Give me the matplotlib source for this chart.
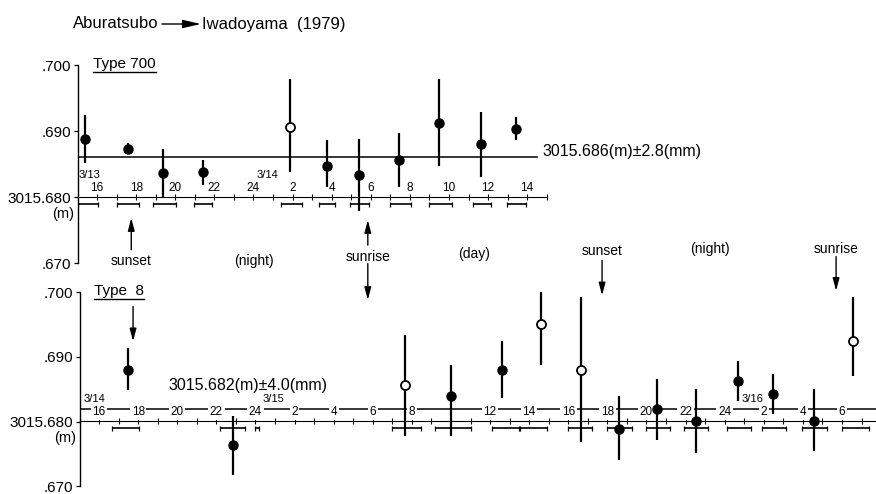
import matplotlib
matplotlib.use('Agg')
import matplotlib.pyplot as plt
import numpy as np
from matplotlib.ticker import FixedLocator, FixedFormatter
from matplotlib.lines import Line2D

plt.rcParams['font.family'] = ['Liberation Sans', 'DejaVu Sans']

# ---------------- data -----------------
# Type 700 (upper panel): time in hours from 3/13 0h, values in mm above 3015.680 m
t700_time = [15.38, 17.58, 19.37, 21.42, 25.87, 27.76, 29.40, 31.45, 33.50, 35.64, 37.43]
t700_val  = [8.8, 7.3, 3.6, 3.8, 10.6, 4.7, 3.3, 5.6, 11.2, 8.0, 10.3]
t700_hi   = [12.4, 8.2, 7.3, 5.6, 17.9, 8.6, 8.8, 9.7, 17.9, 12.9, 12.1]
t700_lo   = [5.2, 6.7, 0.0, 1.8, 3.8, 1.5, -2.1, 1.5, 4.7, 3.0, 8.6]
t700_open = [False, False, False, False, True, False, False, False, False, False, False]
t700_start = [15.0, 17.02, 18.86, 20.96, 25.40, 27.35, 28.94, 30.98, 32.98, 35.23, 36.97]
t700_end   = [16.05, 18.15, 20.04, 21.88, 26.48, 28.17, 29.92, 32.05, 34.16, 36.15, 37.95]
t700_mean = 6.0          # 3015.686 m
t700_mean_end = 38.5

# Type 8 (lower panel): time in hours from 3/14 0h
t8_time = [17.48, 22.85, 31.65, 34.00, 36.61, 38.61, 40.65, 42.60, 44.54, 46.54, 48.69, 50.47, 52.57, 54.56]
t8_val  = [8.0, -3.7, 5.7, 3.9, 7.9, 15.0, 8.0, -1.1, 2.0, 0.15, 6.2, 4.2, 0.15, 12.5]
t8_hi   = [11.4, 0.8, 13.4, 8.8, 12.5, 21.6, 19.3, 3.9, 6.6, 5.1, 9.4, 7.3, 5.1, 19.2]
t8_lo   = [4.8, -8.3, -2.2, -2.3, 3.6, 8.7, -3.1, -5.9, -2.9, -4.9, 3.2, 1.2, -4.5, 7.0]
t8_open = [False, False, True, False, False, True, True, False, False, False, False, False, False, True]
t8_start = [16.66, 22.19, 23.98, 30.98, 33.20, 36.10, 37.53, 39.99, 41.97, 44.00, 45.90, 48.12, 49.91, 51.96, 54.00]
t8_end   = [18.04, 23.49, 24.18, 32.46, 35.04, 37.48, 38.91, 41.21, 43.24, 45.20, 47.13, 49.35, 51.14, 53.24, 55.38]
t8_mean = 2.0            # 3015.682 m

top_hour_ticks = [16, 18, 20, 22, 24, 26, 28, 30, 32, 34, 36, 38]
top_hour_labels = ['16', '18', '20', '22', '24', '2', '4', '6', '8', '10', '12', '14']
bot_hour_ticks = [16, 18, 20, 22, 24, 26, 28, 30, 32, 34, 36, 38, 40, 42, 44, 46, 48, 50, 52, 54]
bot_hour_labels = ['16', '18', '20', '22', '24', '2', '4', '6', '8', '', '12', '14', '16', '18',
                   '20', '22', '24', '2', '4', '6']
ytick_vals = [-10, 0, 10, 20]
ytick_labels = ['.670', '3015.680', '.690', '.700']

top_dates = [(15.6, '3/13'), (24.7, '3/14')]
bot_dates = [(15.75, '3/14'), (24.9, '3/15'), (49.4, '3/16')]

# ---------------- figure -----------------
W, H = 876, 494
fig = plt.figure(figsize=(W / 100, H / 100), dpi=100)
pxh = 19.55  # pixels per hour

def fx(px):
    return px / W

def fy(px):
    return 1 - px / H

ax1 = fig.add_axes([fx(77.5), fy(263), 1 - fx(77.5), 198 / H])
ax1.set_xlim(15, 15 + (W - 77.5) / pxh)
ax1.set_ylim(-10, 20)
ax2 = fig.add_axes([fx(79.5), fy(486.2), 1 - fx(79.5), 194.1 / H])
ax2.set_xlim(15, 15 + (W - 79.5) / pxh)
ax2.set_ylim(-10, 20)


def setup(ax, xend, ticks, labels, boxed):
    ax.patch.set_visible(False)
    ax.spines['right'].set_visible(False)
    ax.spines['bottom'].set_visible(False)
    ax.spines['top'].set_position(('data', 0))
    ax.spines['top'].set_bounds(15, xend)
    ax.spines['top'].set_linewidth(0.8)
    ax.spines['left'].set_bounds(-10, 20)
    ax.spines['left'].set_linewidth(1.0)
    ax.xaxis.set_ticks_position('top')
    ax.xaxis.set_major_locator(FixedLocator(ticks))
    ax.xaxis.set_major_formatter(FixedFormatter(labels))
    ax.xaxis.set_minor_locator(FixedLocator(np.arange(15, xend + 0.01, 1)))
    ax.tick_params(axis='x', which='both', direction='inout', length=4, width=0.8,
                   pad=0.3, labelsize=8.5)
    ax.set_yticks(ytick_vals)
    ax.set_yticklabels(ytick_labels)
    ax.tick_params(axis='y', direction='out', length=3, width=0.9, pad=1.5, labelsize=11)
    ax.text(-0.004, -2.5, '(m)', transform=ax.get_yaxis_transform(), ha='right',
            va='center', fontsize=10.5)
    if boxed:
        for lbl in ax.xaxis.get_majorticklabels():
            lbl.set_bbox(dict(facecolor='white', edgecolor='none', pad=1.2))


def draw_points(ax, t, v, hi, lo, op, st, en):
    t = np.asarray(t); v = np.asarray(v)
    hi = np.asarray(hi); lo = np.asarray(lo); op = np.asarray(op)
    ax.errorbar(t, v, yerr=[v - lo, hi - v], fmt='none', ecolor='black',
                elinewidth=1.6, capsize=0, zorder=3)
    ax.plot(t[~op], v[~op], 'o', color='black', ms=6.5, zorder=4)
    ax.plot(t[op], v[op], 'o', mfc='white', mec='black', mew=1.3, ms=6.5, zorder=4)
    st = np.asarray(st); en = np.asarray(en)
    ax.errorbar((st + en) / 2, np.full(len(st), -1.0), xerr=(en - st) / 2, fmt='none',
                ecolor='black', elinewidth=1.2, capsize=1.8, capthick=0.9, zorder=3)


setup(ax1, 39, top_hour_ticks, top_hour_labels, False)
setup(ax2, ax2.get_xlim()[1], bot_hour_ticks, bot_hour_labels, True)

draw_points(ax1, t700_time, t700_val, t700_hi, t700_lo, t700_open, t700_start, t700_end)
draw_points(ax2, t8_time, t8_val, t8_hi, t8_lo, t8_open, t8_start, t8_end)

ax1.plot([15, t700_mean_end], [t700_mean, t700_mean], color='black', lw=1.1, zorder=2)
ax2.axhline(t8_mean, color='black', lw=1.1, zorder=1)

ax1.text(38.76, 6.9, '3015.686(m)\u00b12.8(mm)', ha='left', va='center', fontsize=11.5)
ax2.text(19.53, 5.6, '3015.682(m)\u00b14.0(mm)', ha='left', va='center', fontsize=11.5)

type1 = ax1.text(15.8, 20.2, 'Type 700', ha='left', va='center', fontsize=11)
type2 = ax2.text(15.75, 20.2, 'Type  8', ha='left', va='center', fontsize=11)

for x, s in top_dates:
    ax1.text(x, 3.3, s, ha='center', va='center', fontsize=8)
for x, s in bot_dates:
    ax2.text(x, 3.5, s, ha='center', va='center', fontsize=8,
             bbox=dict(facecolor='white', edgecolor='none', pad=0.5))

arr = dict(arrowstyle='-|>,head_length=0.75,head_width=0.2', lw=1.0, color='black',
           shrinkA=0, shrinkB=0, mutation_scale=10)

# upper panel annotations
sunset1, sunrise1 = 17.75, 29.85
ax1.text(sunset1, -9.7, 'sunset', ha='center', va='center', fontsize=10)
ax1.annotate('', xy=(sunset1, -3.2), xytext=(sunset1, -8.0), arrowprops=arr,
             annotation_clip=False)
ax1.text(24.0, -9.7, '(night)', ha='center', va='center', fontsize=10)
ax1.text(sunrise1, -9.1, 'sunrise', ha='center', va='center', fontsize=10)
ax1.annotate('', xy=(sunrise1, -3.5), xytext=(sunrise1, -7.3), arrowprops=arr,
             annotation_clip=False)
ax1.annotate('', xy=(sunrise1, -15.6), xytext=(sunrise1, -10.1), arrowprops=arr,
             annotation_clip=False)
ax1.text(35.3, -8.6, '(day)', ha='center', va='center', fontsize=10)

# lower panel annotations
sunset0, sunset2, sunrise2 = 17.74, 41.73, 53.7
ax2.annotate('', xy=(sunset0, 12.4), xytext=(sunset0, 17.8), arrowprops=arr,
             annotation_clip=False)
ax2.text(sunset2, 26.3, 'sunset', ha='center', va='center', fontsize=10)
ax2.annotate('', xy=(sunset2, 19.5), xytext=(sunset2, 24.9), arrowprops=arr,
             annotation_clip=False)
ax2.text(47.25, 26.7, '(night)', ha='center', va='center', fontsize=10)
ax2.text(sunrise2, 26.7, 'sunrise', ha='center', va='center', fontsize=10)
ax2.annotate('', xy=(sunrise2, 20.2), xytext=(sunrise2, 25.5), arrowprops=arr,
             annotation_clip=False)

# title
fig.text(fx(73), fy(24), 'Aburatsubo', ha='left', va='center', fontsize=12)
fig.add_artist(matplotlib.patches.FancyArrowPatch(
    (fx(162), fy(24)), (fx(201), fy(24)), transform=fig.transFigure,
    arrowstyle='-|>,head_length=1.1,head_width=0.25', mutation_scale=10, lw=1.0,
    color='black', shrinkA=0, shrinkB=0))
fig.text(fx(202), fy(24), 'Iwadoyama  (1979)', ha='left', va='center', fontsize=12)

# underline the panel names
fig.canvas.draw()
renderer = fig.canvas.get_renderer()
for t in (type1, type2):
    bb = t.get_window_extent(renderer)
    y = bb.y0 - 1.5
    fig.add_artist(Line2D([bb.x0, bb.x1], [y, y], transform=None, color='black', lw=1.0))

fig.savefig('out.png', dpi=100)
